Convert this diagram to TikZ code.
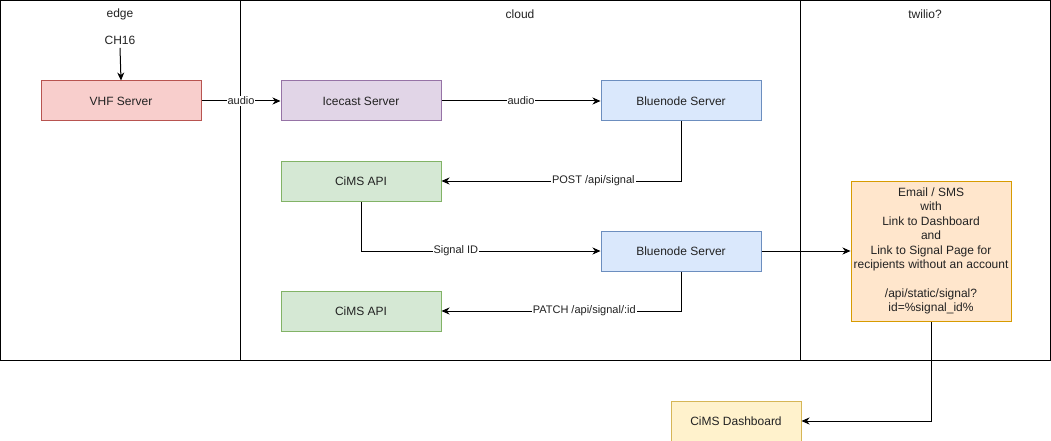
\documentclass[tikz,border=0pt]{standalone}
\usepackage{fontspec}
\setmainfont{Liberation Sans}
\usetikzlibrary{arrows.meta}
\definecolor{redF}{HTML}{F8CECC}\definecolor{redD}{HTML}{B85450}
\definecolor{purF}{HTML}{E1D5E7}\definecolor{purD}{HTML}{9673A6}
\definecolor{bluF}{HTML}{DAE8FC}\definecolor{bluD}{HTML}{6C8EBF}
\definecolor{grnF}{HTML}{D5E8D4}\definecolor{grnD}{HTML}{82B366}
\definecolor{orgF}{HTML}{FFE6CC}\definecolor{orgD}{HTML}{D79B00}
\definecolor{yelF}{HTML}{FFF2CC}\definecolor{yelD}{HTML}{D6B656}
\definecolor{txt}{HTML}{222222}
\begin{document}
\begin{tikzpicture}[x=1pt,y=-1pt,
  box/.style={draw, line width=1pt, minimum width=160pt, minimum height=40pt, inner sep=0pt, anchor=north west, font=\fontsize{12}{14.4}\selectfont, text=txt},
  conn/.style={draw, line width=1pt, -{Stealth[length=8pt,width=7pt,inset=2.5pt]}},
  lbl/.style={fill=white, inner sep=1pt, font=\fontsize{11}{13}\selectfont, text=txt},
  lane/.style={draw, line width=1pt},
  title/.style={font=\fontsize{12}{14}\selectfont, text=txt}]
\useasboundingbox (0,0) rectangle (1051,441);
\fill[white] (0,0) rectangle (1051,441);
% lanes
\draw[lane] (0.5,0.5) rectangle (240.5,360.5);
\draw[lane] (240.5,0.5) rectangle (800.5,360.5);
\draw[lane] (800.5,0.5) rectangle (1050.5,360.5);
\node[title] (tedge) at (120,14) {edge};
\node[title] (tcloud) at (520,14) {cloud};
\node[title] (ttw) at (925,14) {twilio?};
\node[title] (ch) at (120,40) {CH16};
% nodes
\node[box, fill=redF, draw=redD] (vhf) at (40.5,80.5) {VHF Server};
\node[box, fill=purF, draw=purD] (ice) at (280.5,80.5) {Icecast Server};
\node[box, fill=bluF, draw=bluD] (bn1) at (600.5,80.5) {Bluenode Server};
\node[box, fill=grnF, draw=grnD] (api1) at (280.5,160.5) {CiMS API};
\node[box, fill=bluF, draw=bluD] (bn2) at (600.5,230.5) {Bluenode Server};
\node[box, fill=grnF, draw=grnD] (api2) at (280.5,290.5) {CiMS API};
\node[box, fill=orgF, draw=orgD, minimum height=140pt, align=center] (mail) at (850.5,180.5) {Email / SMS\\with\\Link to Dashboard\\and\\Link to Signal Page for\\recipients without an account\\[14.4pt]/api/static/signal?\\id=\%signal\_id\%};
\node[box, fill=yelF, draw=yelD, minimum width=130pt] (dash) at (670.5,400.5) {CiMS Dashboard};
% connectors
\draw[conn] (ch.south) -- (vhf.north);
\draw[conn] (vhf.east) -- node[lbl] {audio} (ice.west);
\draw[conn] (ice.east) -- node[lbl] {audio} (bn1.west);
\draw[conn] (bn1.south) |- node[lbl, pos=0.683] {POST /api/signal} (api1.east);
\draw[conn] (api1.south) |- node[lbl, pos=0.698] {Signal ID} (bn2.west);
\draw[conn] (bn2.south) |- node[lbl, pos=0.702] {PATCH /api/signal/:id} (api2.east);
\draw[conn] (bn2.east) -- (mail.west);
\draw[conn] (mail.south) |- (dash.east);
\end{tikzpicture}
\end{document}
